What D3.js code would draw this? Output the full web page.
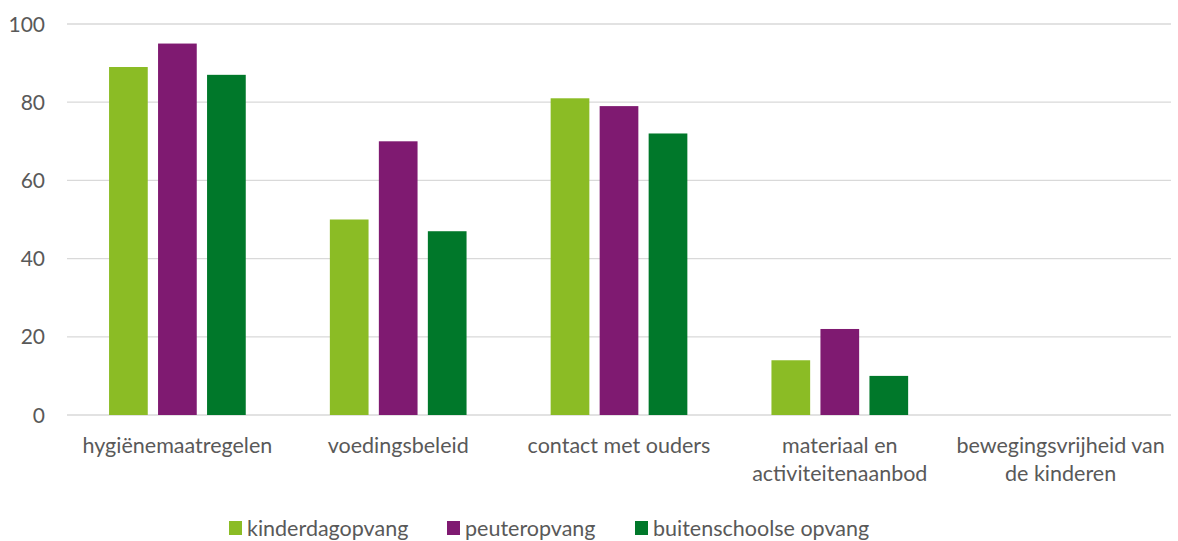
<!DOCTYPE html>
<html>
<head>
<meta charset="utf-8">
<script src="https://cdn.jsdelivr.net/npm/d3@7"></script>
<style>
  body { margin: 0; background: #fff; }
  svg { font-family: Lato, "Open Sans", sans-serif; }
</style>
</head>
<body>
<div id="chart"></div>
<script>
const categories = [
  ['hygiënemaatregelen'],
  ['voedingsbeleid'],
  ['contact met ouders'],
  ['materiaal en', 'activiteitenaanbod'],
  ['bewegingsvrijheid van', 'de kinderen']
];
const seriesNames = ['kinderdagopvang', 'peuteropvang', 'buitenschoolse opvang'];
const kinderdagopvang = [89, 50, 81, 14, 0];
const peuteropvang = [95, 70, 79, 22, 0];
const buitenschoolse = [87, 47, 72, 10, 0];
const yTicks = [0, 20, 40, 60, 80, 100];
const colours = ['#8BBC25', '#7F1A71', '#00782A'];

const width = 1178, height = 541;
const plotLeft = 67, plotRight = 1171, plotTop = 24, plotBottom = 415;
const seriesValues = [kinderdagopvang, peuteropvang, buitenschoolse];

const svg = d3.select('#chart').append('svg')
  .attr('width', width).attr('height', height);

const xScale = d3.scaleBand()
  .domain(d3.range(categories.length))
  .range([plotLeft, plotRight]);

const yScale = d3.scaleLinear()
  .domain([0, 100])
  .range([plotBottom, plotTop]);

const barW = 38.7, gap = 10.3;
const inner = d3.scaleBand()
  .domain(d3.range(seriesNames.length))
  .range([0, barW * 3 + gap * 2])
  .paddingInner(gap / (barW + gap));

// gridlines
svg.append('g').selectAll('line')
  .data(yTicks)
  .enter().append('line')
    .attr('x1', plotLeft).attr('x2', plotRight)
    .attr('y1', d => yScale(d)).attr('y2', d => yScale(d))
    .attr('stroke', '#d9d9d9').attr('stroke-width', 1.3);

// y labels
svg.append('g').selectAll('text')
  .data(yTicks)
  .enter().append('text')
    .attr('x', 45)
    .attr('y', d => yScale(d))
    .attr('dy', '0.36em')
    .attr('text-anchor', 'end')
    .attr('font-size', 21)
    .attr('fill', '#595959')
    .text(d => d);

// bars
seriesValues.forEach((vals, s) => {
  svg.append('g').selectAll('rect')
    .data(vals)
    .enter().append('rect')
      .attr('x', (d, i) => xScale(i) + xScale.bandwidth() / 2 - inner.range()[1] / 2 + inner(s))
      .attr('y', d => yScale(d))
      .attr('width', inner.bandwidth())
      .attr('height', d => plotBottom - yScale(d))
      .attr('fill', colours[s]);
});

// category labels
const catG = svg.append('g').selectAll('text')
  .data(categories)
  .enter().append('text')
    .attr('x', (d, i) => xScale(i) + xScale.bandwidth() / 2)
    .attr('y', 453)
    .attr('text-anchor', 'middle')
    .attr('font-size', 21.5)
    .attr('fill', '#595959');
catG.selectAll('tspan')
  .data(d => d)
  .enter().append('tspan')
    .attr('x', function() { return d3.select(this.parentNode).attr('x'); })
    .attr('dy', (d, i) => i === 0 ? 0 : 28)
    .text(d => d);

// legend
const legendX = [229, 447, 635];
const legend = svg.append('g').selectAll('g')
  .data(seriesNames)
  .enter().append('g')
    .attr('transform', (d, i) => `translate(${legendX[i]}, 521)`);
legend.append('rect')
  .attr('width', 13).attr('height', 14)
  .attr('fill', (d, i) => colours[i]);
legend.append('text')
  .attr('x', 18).attr('y', 14.5)
  .attr('font-size', 21.5)
  .attr('fill', '#595959')
  .text(d => d);
</script>
</body>
</html>
